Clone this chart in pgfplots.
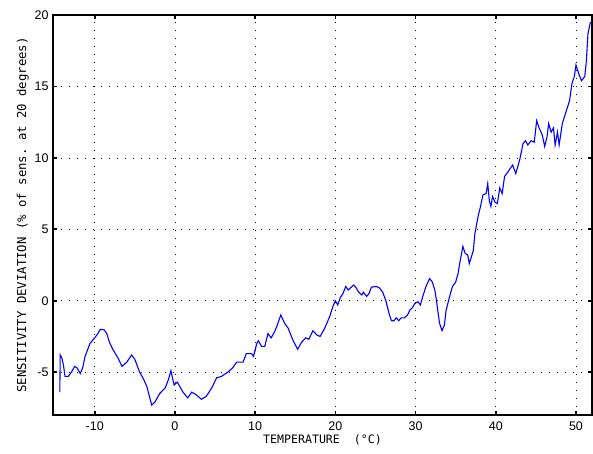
\documentclass[border=0pt]{standalone}
\usepackage{fontspec}
\setmainfont{Liberation Sans}
\setsansfont{Liberation Sans}
\setmonofont{DejaVu Sans Mono}
\usepackage{pgfplots}
\pgfplotsset{compat=1.18}
\begin{document}
\begin{tikzpicture}
\begin{axis}[
  scale only axis,
  width=539pt, height=400pt,
  xmin=-15.2, xmax=52, ymin=-8, ymax=20,
  xtick={-10,0,...,50}, ytick={-5,0,...,20},
  grid=major,
  major grid style={black, line width=0.7pt, dash pattern=on 0.7pt off 7.3pt},
  axis line style={black, line width=1.6pt},
  tick style={black, line width=1.6pt},
  major tick length=4pt,
  tick align=inside,
  xtick pos=both, ytick pos=both,
  /pgf/number format/assume math mode=true,
  tick label style={font=\fontsize{12.5}{12}\selectfont\sffamily},
  xticklabel style={yshift=-3pt},
  yticklabel style={xshift=-1pt},
  xlabel={TEMPERATURE\ \ (°C)},
  ylabel={SENSITIVITY DEVIATION (\% of sens. at 20 degrees)},
  xlabel style={font=\fontsize{11.6}{12}\ttfamily, yshift=3pt},
  ylabel style={font=\fontsize{12.3}{12}\ttfamily, yshift=-1pt},
]
\addplot[blue, line width=1.1pt] coordinates {
(-14.35,-6.4) (-14.3,-3.8) (-14.1,-4.0) (-13.9,-4.5) (-13.7,-5.3) (-13.3,-5.3)
(-12.9,-5.0) (-12.5,-4.6) (-12.2,-4.7) (-11.8,-5.1) (-11.5,-4.7) (-11.2,-3.9)
(-10.6,-3.0) (-10.0,-2.6) (-9.6,-2.3) (-9.3,-2.0) (-8.8,-2.05) (-8.5,-2.3)
(-8.1,-3.0) (-7.7,-3.45) (-7.1,-4.0) (-6.6,-4.6) (-6.0,-4.3) (-5.4,-3.8)
(-5.0,-4.1) (-4.4,-5.0) (-3.9,-5.5) (-3.5,-6.0) (-2.9,-7.3) (-2.5,-7.1)
(-1.9,-6.5) (-1.2,-6.1) (-0.8,-5.5) (-0.5,-4.9) (-0.3,-5.4) (-0.1,-5.9)
(0.3,-5.7) (0.5,-5.9) (1.0,-6.4) (1.6,-6.8) (2.1,-6.4) (2.7,-6.6) (3.3,-6.9)
(3.9,-6.7) (4.6,-6.1) (5.2,-5.4) (5.8,-5.3) (6.6,-5.0) (7.2,-4.7) (7.7,-4.3)
(8.5,-4.3) (8.9,-3.7) (9.55,-3.7) (9.8,-3.9) (10.2,-3.0) (10.4,-2.8)
(10.8,-3.2) (11.2,-3.2) (11.6,-2.3) (12.0,-2.6) (12.4,-2.2) (12.7,-1.8)
(13.2,-1.0) (13.7,-1.6) (14.1,-1.9) (14.7,-2.75) (15.3,-3.4) (15.8,-2.9)
(16.3,-2.6) (16.7,-2.7) (17.2,-2.1) (17.7,-2.4) (18.1,-2.5) (18.7,-1.9)
(19.3,-1.1) (19.7,-0.4) (20.0,0.0) (20.3,-0.3) (20.6,0.2) (20.95,0.5)
(21.3,1.0) (21.6,0.75) (21.9,0.9) (22.3,1.1) (22.6,0.9) (22.9,0.6) (23.3,0.4)
(23.5,0.6) (23.9,0.3) (24.2,0.5) (24.5,0.95) (25.1,1.0) (25.5,0.9) (25.9,0.6)
(26.3,0.0) (26.7,-0.9) (27.0,-1.4) (27.3,-1.4) (27.6,-1.2) (27.9,-1.4)
(28.2,-1.2) (28.6,-1.2) (29.0,-1.0) (29.3,-0.65) (29.6,-0.5) (29.9,-0.2)
(30.3,-0.07) (30.6,-0.3) (30.9,0.3) (31.3,1.0) (31.75,1.55) (32.1,1.3)
(32.4,0.75) (32.6,0.05) (32.8,-0.8) (33.0,-1.6) (33.3,-2.1) (33.6,-1.7)
(33.8,-0.7) (34.2,0.2) (34.6,1.0) (35.0,1.3) (35.3,1.9) (35.5,2.6) (35.9,3.8)
(36.2,3.3) (36.5,3.2) (36.7,2.6) (37.2,3.5) (37.4,4.7) (37.8,5.9) (38.1,6.6)
(38.4,7.4) (38.8,7.5) (39.0,8.2) (39.2,7.0) (39.4,6.6) (39.6,7.3) (39.9,6.9)
(40.2,6.8) (40.5,7.9) (40.8,7.5) (41.1,8.7) (41.5,9.0) (42.1,9.5) (42.5,8.9)
(43.0,9.9) (43.4,11.0) (43.7,11.2) (44.0,10.9) (44.4,11.2) (44.8,11.1)
(45.1,12.6) (45.4,12.1) (45.8,11.6) (46.1,10.8) (46.4,11.5) (46.6,12.4)
(46.9,11.8) (47.2,12.1) (47.4,10.9) (47.7,11.8) (47.9,10.9) (48.3,12.4)
(48.8,13.3) (49.2,14.0) (49.5,15.2) (49.8,15.7) (50.0,16.5) (50.4,15.8)
(50.7,15.4) (51.1,15.7) (51.3,16.8) (51.5,18.7) (51.8,19.5)
};
\end{axis}
\pgfresetboundingbox
\useasboundingbox ([xshift=-53pt,yshift=-39pt]current axis.south west) rectangle ([xshift=1pt,yshift=15pt]current axis.north east);
\end{tikzpicture}
\end{document}
